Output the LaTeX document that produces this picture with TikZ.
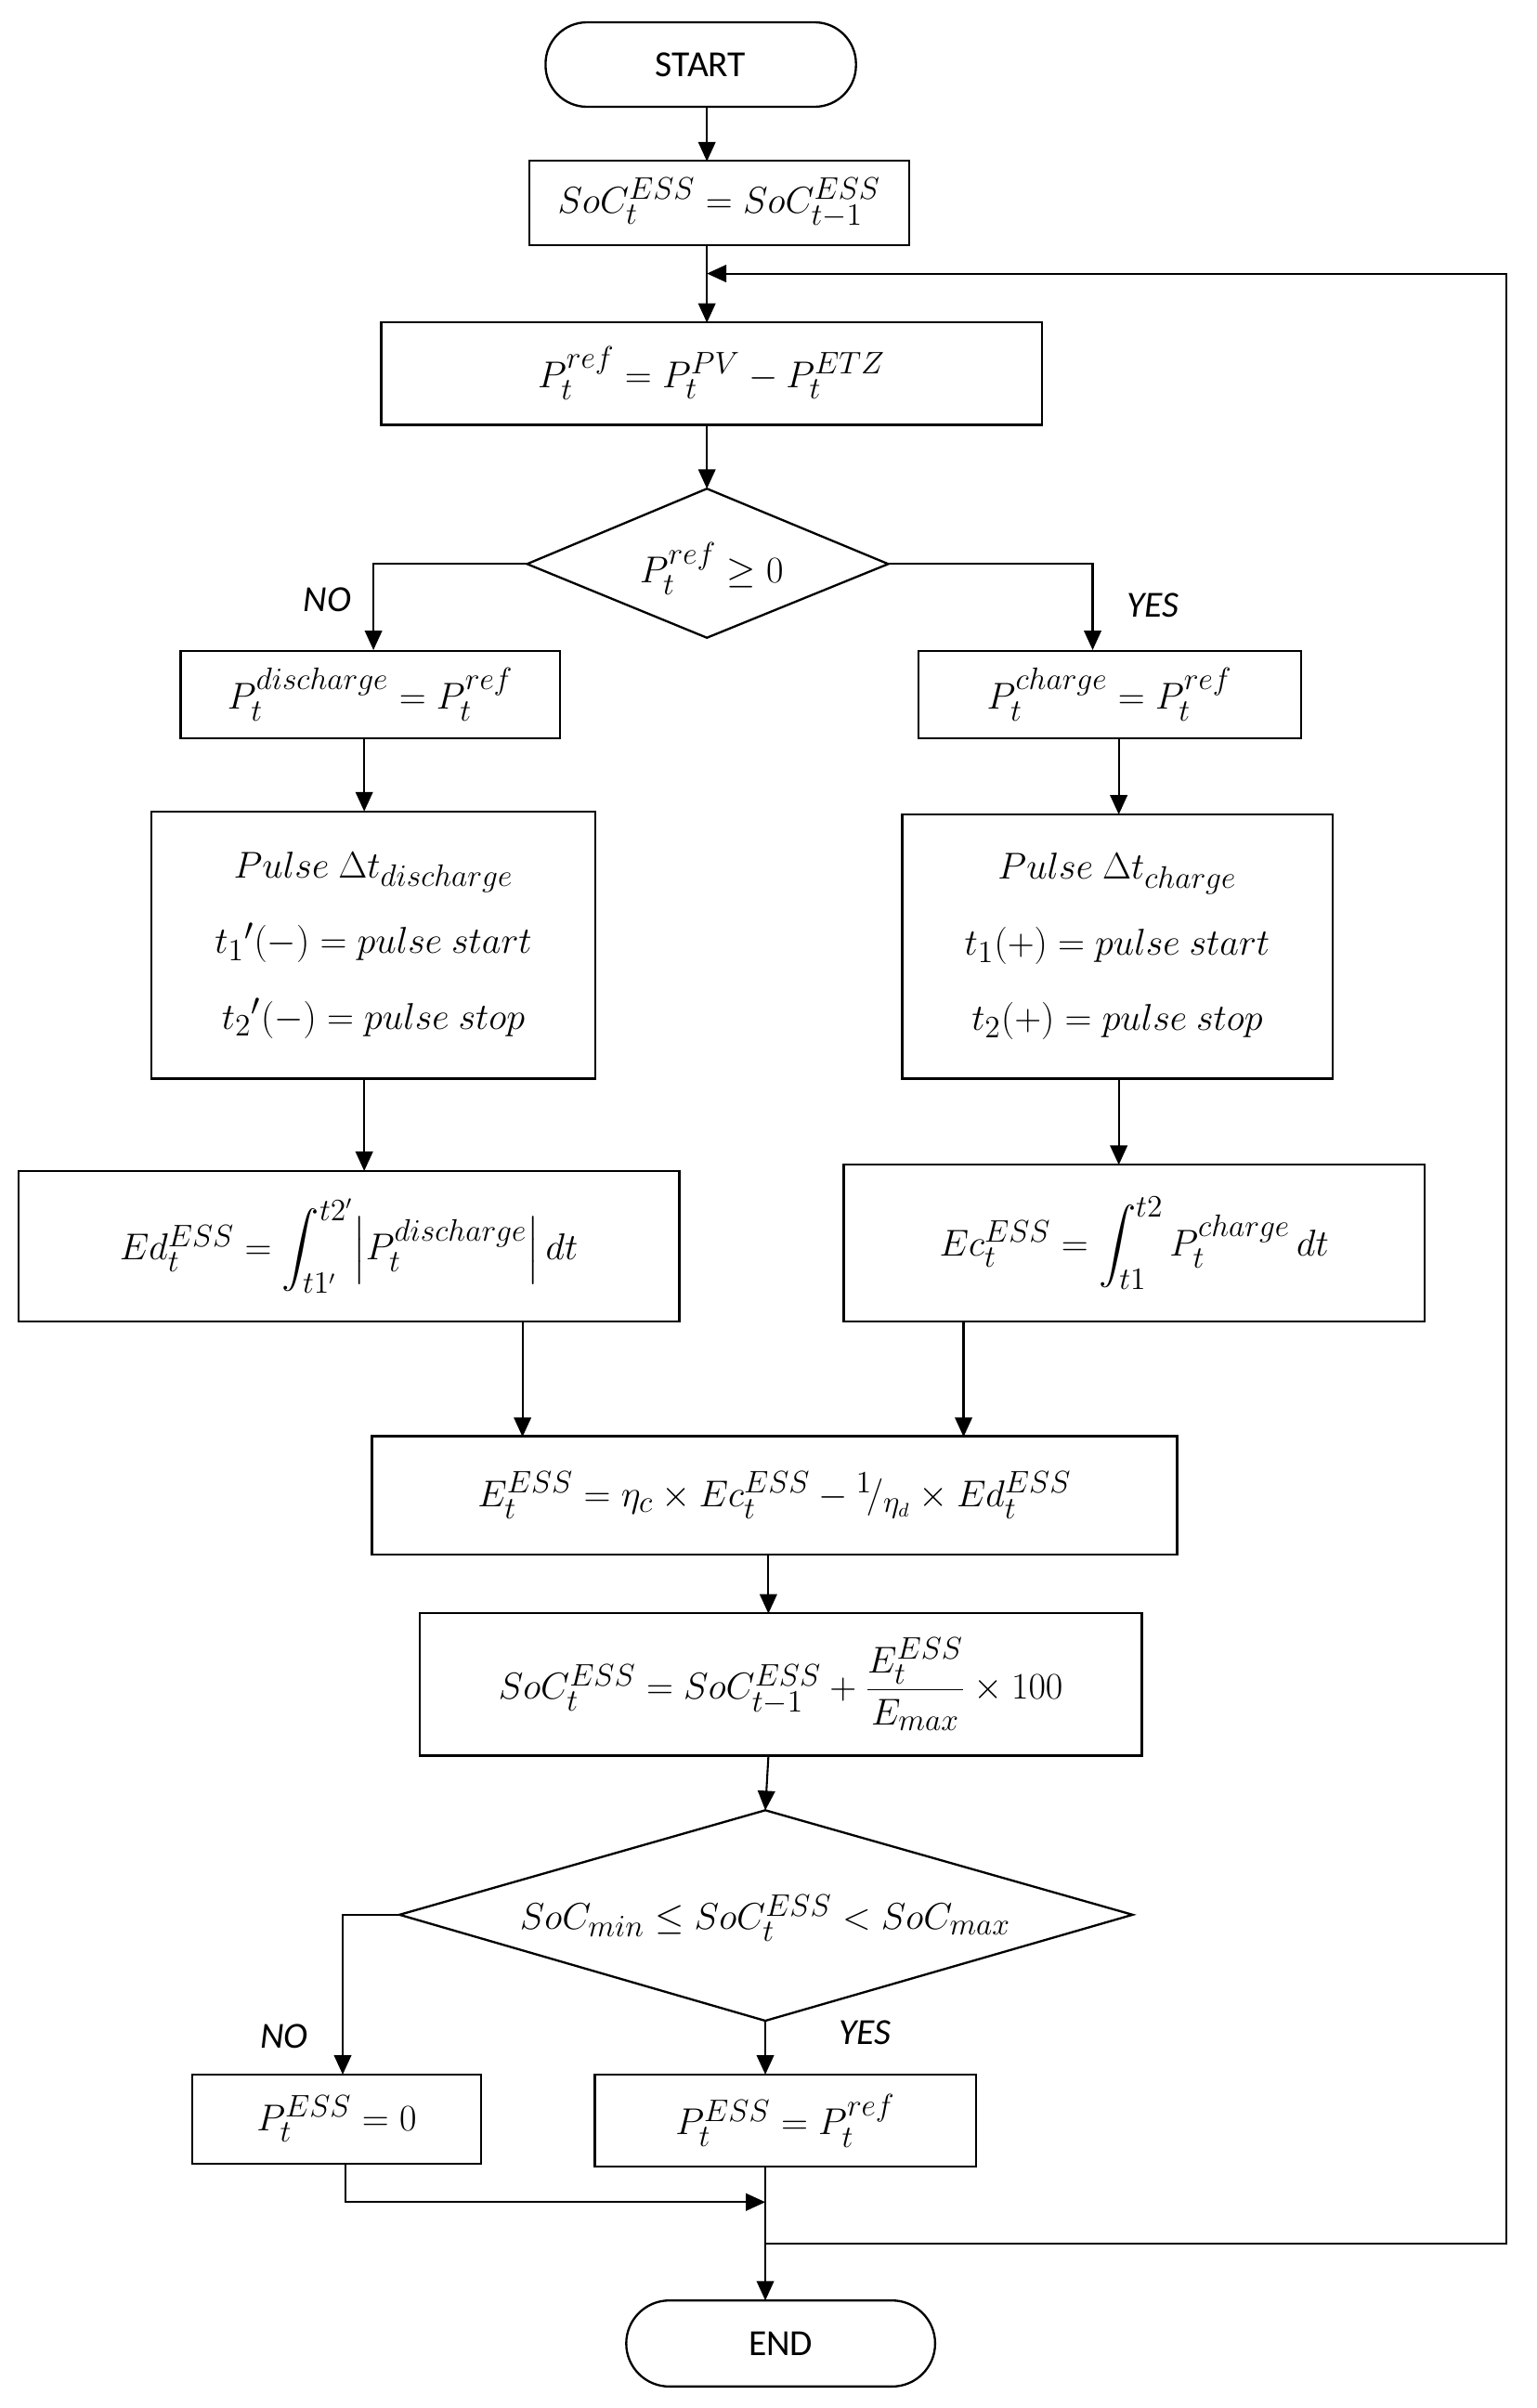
\documentclass[tikz,border=0pt]{standalone}
\usepackage{amsmath}
\usepackage{fontspec}
\setmainfont{Carlito}
\usetikzlibrary{shapes.geometric,arrows.meta}
\newcommand\U{*0.025cm}
\begin{document}
\begin{tikzpicture}[x=0.025cm,y=-0.025cm,
  every node/.style={font=\fontsize{19}{23}\selectfont},
  box/.style={draw,line width=1pt,rectangle,inner sep=0pt},
  line/.style={line width=0.9pt},
  arr/.style={line width=0.9pt,-{Triangle[length=9pt,width=8pt]}},
  lab/.style={font=\fontsize{17}{21}\selectfont\itshape}]
\useasboundingbox (0,0) rectangle (1000,1567);
\node[box,minimum width=202\U,minimum height=55\U,rounded corners=27\U,font=\fontsize{17}{21}\selectfont] (start) at (456,42) {START};
\node[box,minimum width=247\U,minimum height=55\U] (soc0) at (468,132) {$SoC_t^{ESS}=SoC_{t-1}^{ESS}$};
\node[box,minimum width=430\U,minimum height=67\U] (pref) at (463,243) {$P_t^{ref}=P_t^{PV}-P_t^{ETZ}$};
% diamond 1
\coordinate (d1n) at (460,318); \coordinate (d1s) at (460,415);
\coordinate (d1w) at (343,367); \coordinate (d1e) at (578,367);
\draw[line width=1pt] (d1n) -- (d1e) -- (d1s) -- (d1w) -- cycle;
\node (d1) at (463,370) {$P_t^{ref}\geq 0$};
\node[box,minimum width=247\U,minimum height=57\U] (pdis) at (241,452) {$P_t^{discharge}=P_t^{ref}$};
\node[box,minimum width=249\U,minimum height=57\U] (pch) at (722,452) {$P_t^{charge}=P_t^{ref}$};
\node[box,minimum width=289\U,minimum height=174\U,align=center] (pudis) at (243,615) {$Pulse\ \Delta t_{discharge}$\\[12pt] $t_1{}'(-)=pulse\ start$\\[12pt] $t_2{}'(-)=pulse\ stop$};
\node[box,minimum width=280\U,minimum height=172\U,align=center] (puch) at (727,616) {$Pulse\ \Delta t_{charge}$\\[12pt] $t_1(+)=pulse\ start$\\[12pt] $t_2(+)=pulse\ stop$};
\node[box,minimum width=430\U,minimum height=98\U] (ed) at (227,811) {$Ed_t^{ESS}=\displaystyle\int_{t1'}^{t2'}\!\left|P_t^{discharge}\right|dt$};
\node[box,minimum width=378\U,minimum height=102\U] (ec) at (738,809) {$Ec_t^{ESS}=\displaystyle\int_{t1}^{t2}P_t^{charge}\,dt$};
\node[box,minimum width=524\U,minimum height=77\U] (e) at (504,973) {$E_t^{ESS}=\eta_c\times Ec_t^{ESS}-{}^{1}\!/_{\eta_d}\times Ed_t^{ESS}$};
\node[box,minimum width=470\U,minimum height=93\U] (soc) at (508,1096) {$SoC_t^{ESS}=SoC_{t-1}^{ESS}+\dfrac{E_t^{ESS}}{E_{max}}\times 100$};
% diamond 2
\coordinate (d2n) at (498,1178); \coordinate (d2s) at (498,1315);
\coordinate (d2w) at (260,1246); \coordinate (d2e) at (737,1246);
\draw[line width=1pt] (d2n) -- (d2e) -- (d2s) -- (d2w) -- cycle;
\node (d2) at (498,1248) {$SoC_{min}\leq SoC_t^{ESS}<SoC_{max}$};
\node[box,minimum width=188\U,minimum height=58\U] (p0) at (219,1379) {$P_t^{ESS}=0$};
\node[box,minimum width=248\U,minimum height=60\U] (pr) at (511,1380) {$P_t^{ESS}=P_t^{ref}$};
\node[box,minimum width=201\U,minimum height=56\U,rounded corners=28\U,font=\fontsize{17}{21}\selectfont] (end) at (508,1525) {END};
% connectors
\draw[arr] (460,70) -- (460,105);
\draw[arr] (460,160) -- (460,210);
\draw[arr] (460,277) -- (d1n);
\draw[arr] (d1w) -- (243,367) -- (243,423);
\draw[arr] (d1e) -- (711,367) -- (711,423);
\node[lab] at (213,390) {NO};
\node[lab] at (750,394) {YES};
\draw[arr] (237,480) -- (237,528);
\draw[arr] (728,480) -- (728,530);
\draw[arr] (237,702) -- (237,762);
\draw[arr] (728,702) -- (728,758);
\draw[arr] (340,860) -- (340,935);
\draw[arr] (627,860) -- (627,935);
\draw[arr] (500,1012) -- (500,1050);
\draw[arr] (500,1143) -- (d2n);
\draw[arr] (d2w) -- (223,1246) -- (223,1350);
\draw[arr] (d2s) -- (498,1350);
\node[lab] at (185,1325) {NO};
\node[lab] at (563,1323) {YES};
\draw[arr] (225,1408) -- (225,1433) -- (498,1433);
\draw[arr] (498,1410) -- (498,1497);
\draw[arr] (498,1460) -- (980,1460) -- (980,178) -- (460,178);
\end{tikzpicture}
\end{document}
